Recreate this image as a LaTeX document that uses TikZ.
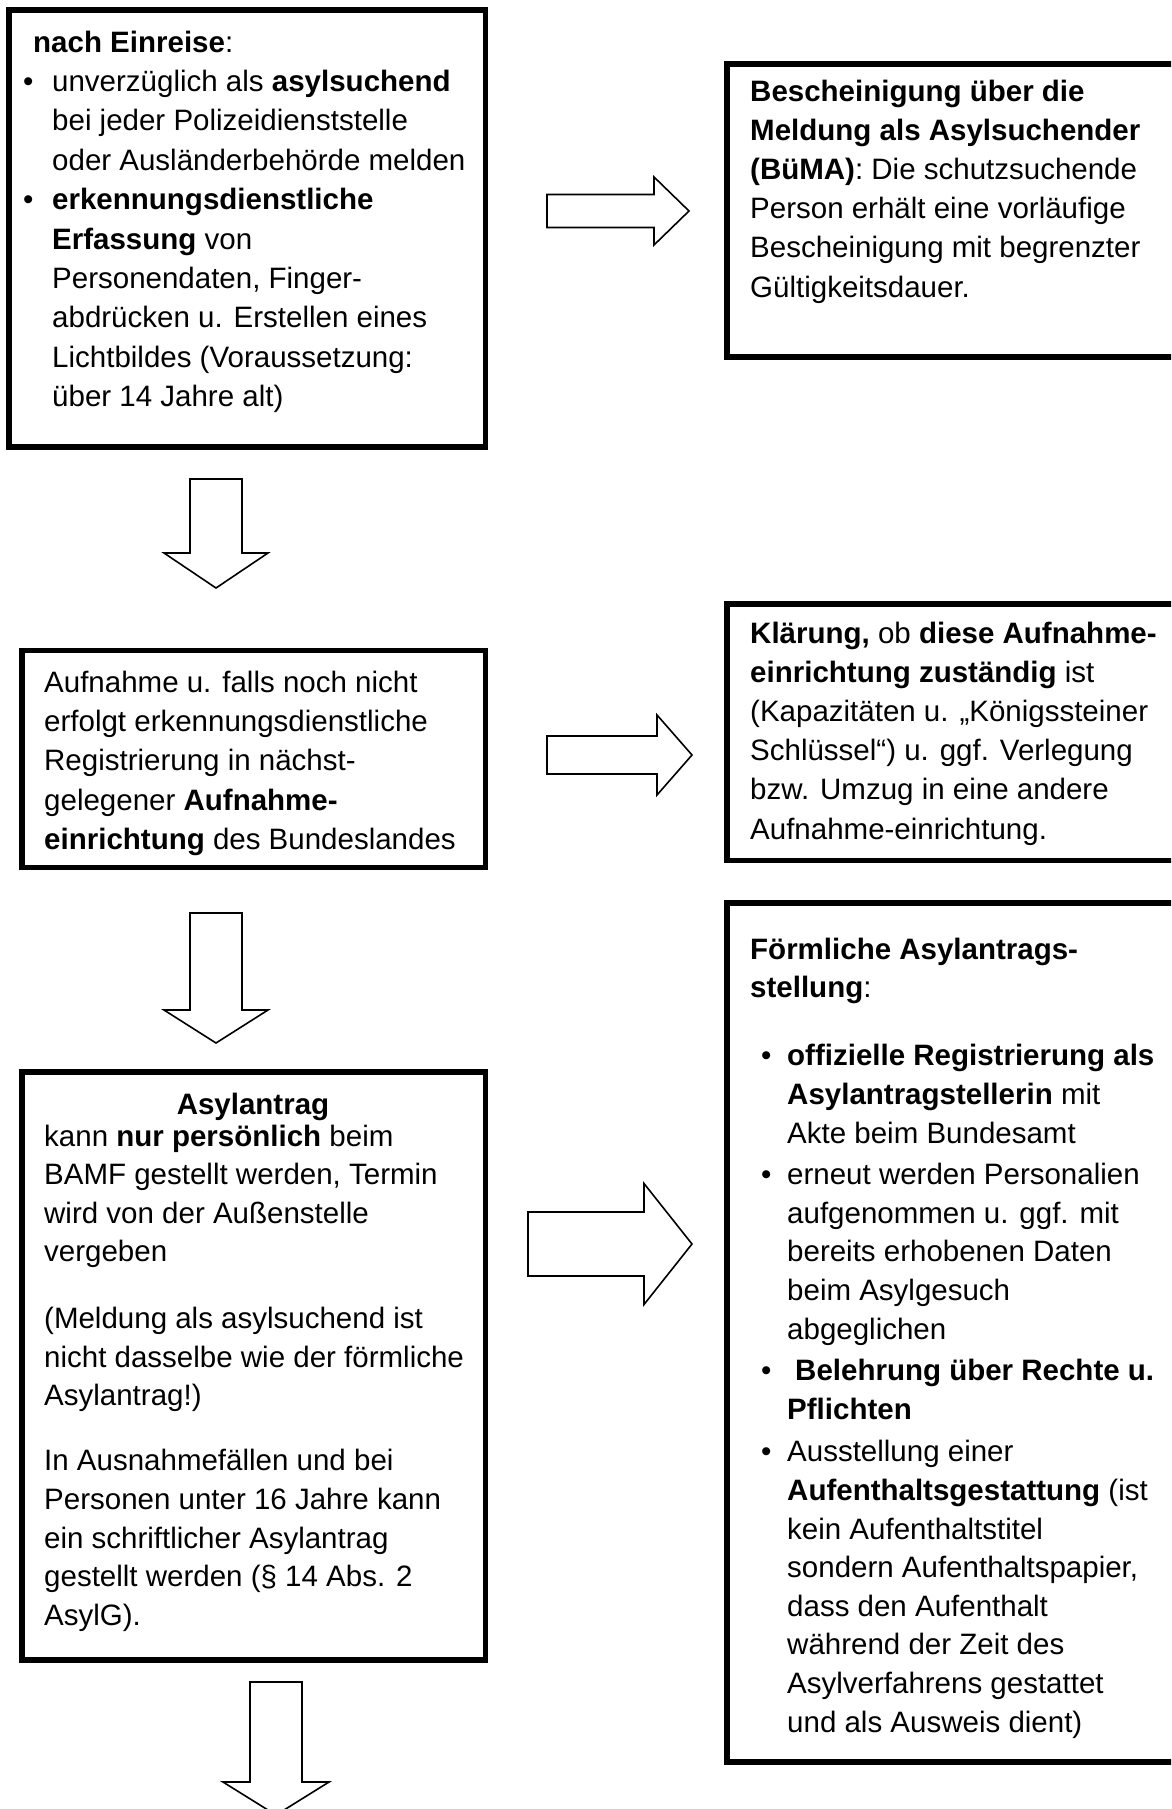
\documentclass[tikz,border=0pt]{standalone}
\usepackage{fontspec}
\setmainfont{Liberation Sans}
\newcommand\bul{\makebox[29pt][l]{•}}
\newcommand\ind{\hspace*{29pt}}
\newcommand\bulB{\hspace*{11pt}\makebox[26pt][l]{•}}
\newcommand\indB{\hspace*{37pt}}
\newcommand\RArrow[6]{\draw[blockarrow] ({#1},{#4-#5}) -- ({#2},{#4-#5}) -- ({#2},{#4-#6}) -- ({#3},{#4}) -- ({#2},{#4+#6}) -- ({#2},{#4+#5}) -- ({#1},{#4+#5}) -- cycle;}
\newcommand\DArrow[6]{\draw[blockarrow] ({#1-#5},{#2}) -- ({#1+#5},{#2}) -- ({#1+#5},{#3}) -- ({#1+#6},{#3}) -- ({#1},{#4}) -- ({#1-#6},{#3}) -- ({#1-#5},{#3}) -- cycle;}
\begin{document}
\begin{tikzpicture}[x=1pt,y=-1pt,
  frame/.style={draw=black,line width=5.5pt},
  blockarrow/.style={draw=black,fill=white,line width=1.6pt,line join=miter},
  txt/.style={anchor=north west,inner sep=0pt,align=left},
  fs/.style={font=\fontsize{29.5}{#1}\selectfont}
]
\useasboundingbox (0,0) rectangle (1171,1809);
\clip (0,0) rectangle (1171,1809);
\fill[white] (0,0) rectangle (1171,1809);

% boxes
\draw[frame] (9,10) rectangle (485.5,447);
\draw[frame] (727,64) rectangle (1200,357);
\draw[frame] (22,650.5) rectangle (485.5,867.5);
\draw[frame] (727,604) rectangle (1200,860.5);
\draw[frame] (22,1072) rectangle (485.5,1660);
\draw[frame] (727,903) rectangle (1200,1762);

% box 1
\node[txt,fs=39.4] (t1) at (23,30.6) {\hspace*{10pt}\textbf{nach Einreise}:\\
\bul unverzüglich als \textbf{asylsuchend}\\
\ind bei jeder Polizeidienststelle\\
\ind oder Ausländerbehörde melden\\
\bul\textbf{erkennungsdienstliche}\\
\ind\textbf{Erfassung} von\\
\ind Personendaten, Finger-\\
\ind abdrücken u. Erstellen eines\\
\ind Lichtbildes (Voraussetzung:\\
\ind über 14 Jahre alt)};

% BueMA
\node[txt,fs=39.2] (t2) at (750,79.6) {\textbf{Bescheinigung über die}\\
\textbf{Meldung als Asylsuchender}\\
\textbf{(BüMA)}: Die schutzsuchende\\
Person erhält eine vorläufige\\
Bescheinigung mit begrenzter\\
Gültigkeitsdauer.};

% box 2
\node[txt,fs=39.4] (t3) at (44,670.6) {Aufnahme u. falls noch nicht\\
erfolgt erkennungsdienstliche\\
Registrierung in nächst-\\
gelegener \textbf{Aufnahme-}\\
\textbf{einrichtung} des Bundeslandes};

% Klaerung
\node[txt,fs=39.2] (t4) at (750,621.6) {\textbf{Klärung,} ob \textbf{diese Aufnahme-}\\
\textbf{einrichtung zuständig} ist\\
(Kapazitäten u. „Königssteiner\\
Schlüssel“) u. ggf. Verlegung\\
bzw. Umzug in eine andere\\
Aufnahme-einrichtung.};

% box 3
\node[anchor=base,inner sep=0pt,fs=38.6] (h5) at (253,1114) {\textbf{Asylantrag}};
\node[txt,fs=38.6] (t5) at (44,1124.6) {kann \textbf{nur persönlich} beim\\
BAMF gestellt werden, Termin\\
wird von der Außenstelle\\
vergeben\\[28pt]
(Meldung als asylsuchend ist\\
nicht dasselbe wie der förmliche\\
Asylantrag!)\\[26.5pt]
In Ausnahmefällen und bei\\
Personen unter 16 Jahre kann\\
ein schriftlicher Asylantrag\\
gestellt werden (§ 14 Abs. 2\\
AsylG).};

% Foermliche
\node[txt,fs=38.6] (t6) at (750,937.6) {\textbf{Förmliche Asylantrags-}\\
\textbf{stellung}:\\[29.5pt]
\bulB\textbf{offizielle Registrierung als}\\
\indB\textbf{Asylantragstellerin} mit\\
\indB Akte beim Bundesamt\\[3pt]
\bulB erneut werden Personalien\\
\indB aufgenommen u. ggf. mit\\
\indB bereits erhobenen Daten\\
\indB beim Asylgesuch\\
\indB abgeglichen\\[3pt]
\bulB\hspace*{8pt}\textbf{Belehrung über Rechte u.}\\
\indB\textbf{Pflichten}\\[4pt]
\bulB Ausstellung einer\\
\indB\textbf{Aufenthaltsgestattung} (ist\\
\indB kein Aufenthaltstitel\\
\indB sondern Aufenthaltspapier,\\
\indB dass den Aufenthalt\\
\indB während der Zeit des\\
\indB Asylverfahrens gestattet\\
\indB und als Ausweis dient)};

% arrows
\RArrow{547}{654}{689}{211}{16.5}{34}
\RArrow{547}{657}{692}{755}{19}{40}
\RArrow{528}{644}{692}{1244}{32}{60.5}
\DArrow{216}{479}{553}{588}{26}{52}
\DArrow{216}{913}{1010}{1043}{26}{52}
\DArrow{276}{1682}{1782}{1815}{26}{53}
\end{tikzpicture}
\end{document}
